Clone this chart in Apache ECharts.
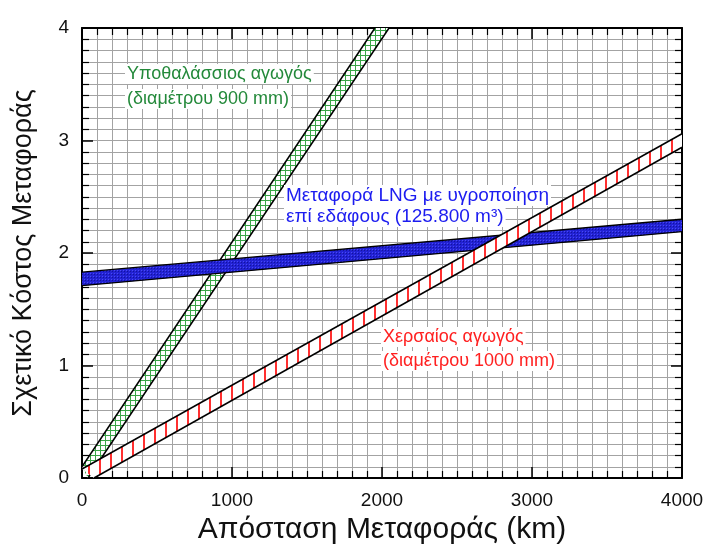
<!DOCTYPE html>
<html>
<head>
<meta charset="utf-8">
<script src="https://cdn.jsdelivr.net/npm/echarts@6/dist/echarts.min.js"></script>
<style>html,body{margin:0;padding:0;background:#fff}#c{width:712px;height:549px}</style>
</head>
<body>
<div id="c"></div>
<script>
// ---- data ----
const xTicks = [0, 1000, 2000, 3000, 4000];
const yTicks = [0, 1, 2, 3, 4];
// Subsea pipeline (900 mm) band edges [km, relative cost]
const subseaUpper = [[0, 0.10], [1953, 4.0]];
const subseaLower = [[40, 0.0], [2047, 4.0]];
// LNG band edges
const lngUpper = [[0, 1.83], [4000, 2.30]];
const lngLower = [[0, 1.71], [4000, 2.19]];
// Land pipeline (1000 mm) band edges
const landUpper = [[0, 0.08], [4000, 3.06]];
const landLower = [[80, 0.0], [4000, 2.94]];

const labels = {
  subsea: ['Υποθαλάσσιος αγωγός', '(διαμέτρου 900 mm)'],
  lng: ['Μεταφορά LNG με υγροποίηση', 'επί εδάφους (125.800 m³)'],
  land: ['Χερσαίος αγωγός', '(διαμέτρου 1000 mm)']
};

// ---- patterns ----
function pat(w, h, draw) {
  const c = document.createElement('canvas');
  c.width = w; c.height = h;
  const g = c.getContext('2d');
  draw(g);
  return { image: c, repeat: 'repeat' };
}
const greenPat = pat(5, 5, g => {
  g.fillStyle = '#ffffff'; g.fillRect(0, 0, 5, 5);
  g.fillStyle = '#3aa648'; g.fillRect(0, 0, 5, 1); g.fillRect(0, 0, 1, 5);
});
const redPat = pat(11, 4, g => {
  g.fillStyle = '#ffffff'; g.fillRect(0, 0, 11, 4);
  g.fillStyle = '#ff3030'; g.fillRect(0, 0, 2, 4);
});
const bluePat = pat(3, 3, g => {
  g.fillStyle = '#2222d4'; g.fillRect(0, 0, 3, 3);
  g.fillStyle = '#4a4af4'; g.fillRect(0, 0, 1, 1);
  g.fillStyle = '#14149c'; g.fillRect(1, 1, 1, 1);
});

function bandSeries(upper, lower, fill, z) {
  return {
    type: 'custom',
    z: z,
    data: [0],
    renderItem: function (params, api) {
      const pts = upper.map(p => api.coord(p)).concat(lower.slice().reverse().map(p => api.coord(p)));
      return { type: 'polygon', shape: { points: pts }, style: { fill: fill, stroke: 'none' } };
    },
    silent: true
  };
}
function edge(data, z) {
  return {
    type: 'line', data: data, z: z, symbol: 'none', silent: true,
    lineStyle: { color: '#000', width: 1.5 }
  };
}

const FONT = '"Liberation Sans", Arial, sans-serif';
const chart = echarts.init(document.getElementById('c'), null, { renderer: 'canvas' });

const gridLine = { show: true, lineStyle: { color: '#a3a3a3', width: 1 } };
function mkX(pos, main) {
  return {
    type: 'value', min: xTicks[0], max: xTicks[xTicks.length - 1], interval: 1000,
    position: pos,
    axisLine: { show: true, onZero: false, lineStyle: { color: '#000', width: 2 } },
    axisTick: { show: true, inside: true, length: 11, lineStyle: { color: '#000', width: 1.5 } },
    minorTick: { show: true, splitNumber: 10, length: 7, lineStyle: { color: '#000', width: 1.2 } },
    splitLine: main ? gridLine : { show: false },
    minorSplitLine: main ? gridLine : { show: false },
    axisLabel: main ? { show: true, fontSize: 19, color: '#111', fontFamily: FONT, margin: 13,
      formatter: v => String(v) } : { show: false },
    name: main ? 'Απόσταση Μεταφοράς (km)' : '',
    nameLocation: 'middle', nameGap: 34,
    nameTextStyle: { fontSize: 30, color: '#111', fontFamily: FONT }
  };
}
function mkY(pos, main) {
  return {
    type: 'value', min: yTicks[0], max: yTicks[yTicks.length - 1], interval: 1,
    position: pos,
    axisLine: { show: true, onZero: false, lineStyle: { color: '#000', width: 2 } },
    axisTick: { show: true, inside: true, length: 11, lineStyle: { color: '#000', width: 1.5 } },
    minorTick: { show: true, splitNumber: 10, length: 7, lineStyle: { color: '#000', width: 1.2 } },
    splitLine: main ? gridLine : { show: false },
    minorSplitLine: main ? gridLine : { show: false },
    axisLabel: main ? { show: true, fontSize: 19, color: '#111', fontFamily: FONT, margin: 13,
      formatter: v => String(v) } : { show: false },
    name: main ? 'Σχετικό Κόστος Μεταφοράς' : '',
    nameLocation: 'middle', nameGap: 45,
    nameTextStyle: { fontSize: 27, color: '#111', fontFamily: FONT }
  };
}

function txt(str, x, y, color, size) {
  return {
    type: 'text', left: x, top: y, z: 100,
    style: { text: str, fill: color, font: size + 'px ' + FONT, backgroundColor: '#fff', padding: [1, 2] }
  };
}

chart.setOption({
  animation: false,
  backgroundColor: '#fff',
  grid: { left: 82, top: 28, width: 600, height: 450, containLabel: false, outerBoundsMode: 'none' },
  xAxis: [mkX('bottom', true), mkX('top', false)],
  yAxis: [mkY('left', true), mkY('right', false)],
  series: [
    bandSeries(subseaUpper, subseaLower, greenPat, 3),
    edge(subseaUpper, 4), edge(subseaLower, 4),
    bandSeries(lngUpper, lngLower, bluePat, 5),
    edge(lngUpper, 6), edge(lngLower, 6),
    bandSeries(landUpper, landLower, redPat, 7),
    edge(landUpper, 8), edge(landLower, 8)
  ],
  graphic: [
    txt(labels.subsea[0], 125, 64, '#23893a', 18),
    txt(labels.subsea[1], 125, 89, '#23893a', 18),
    txt(labels.lng[0], 284, 185, '#1c1cf0', 19),
    txt(labels.lng[1], 284, 206, '#1c1cf0', 19),
    txt(labels.land[0], 381, 327, '#ff2020', 18),
    txt(labels.land[1], 381, 351, '#ff2020', 18)
  ]
});
</script>
</body>
</html>
